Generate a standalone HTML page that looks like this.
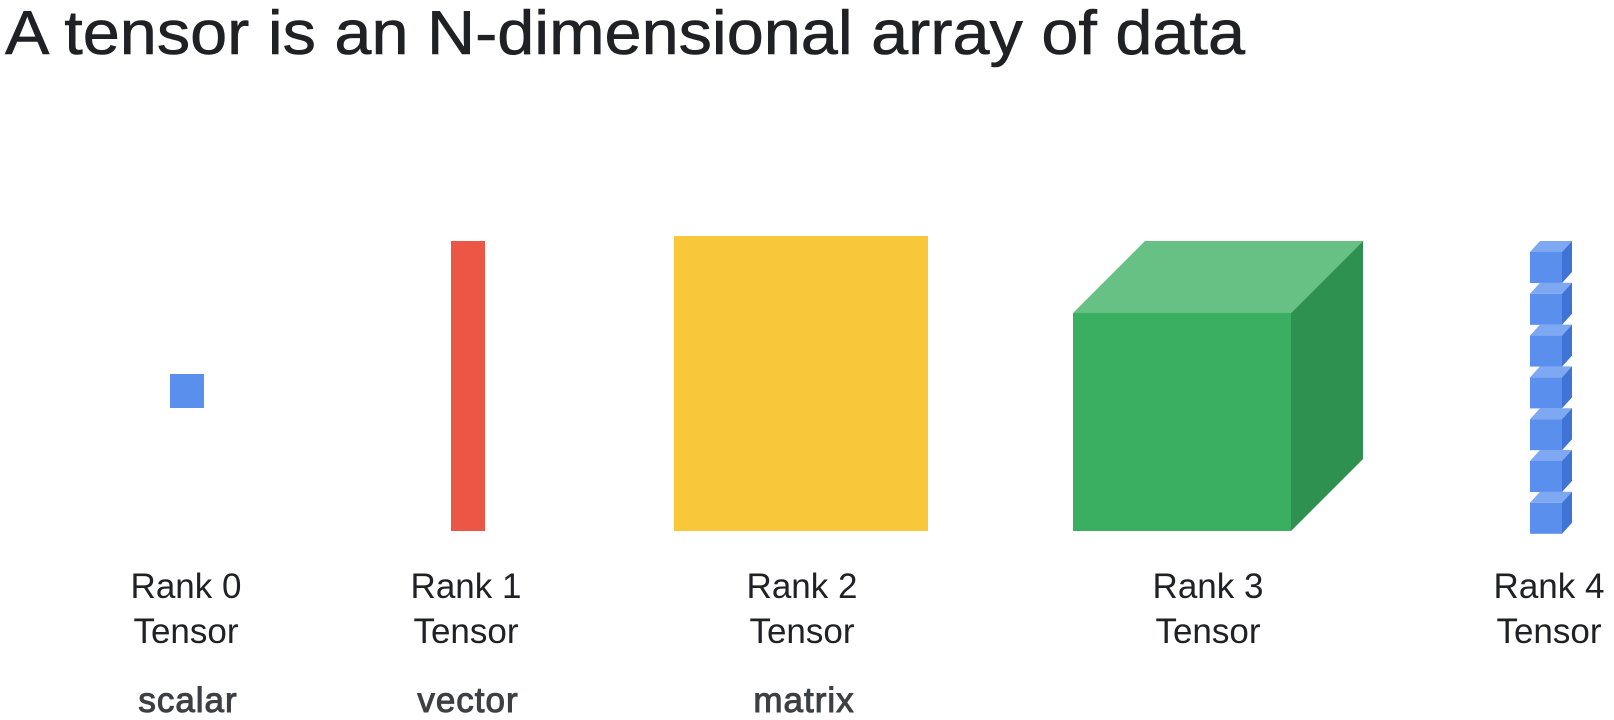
<!DOCTYPE html>
<html><head><meta charset="utf-8"><style>
html,body{margin:0;padding:0;background:#fff;width:1614px;height:720px;overflow:hidden}
svg{display:block}
text{font-family:"Liberation Sans",sans-serif}
</style></head><body>
<svg id="s" width="1614" height="720">
<text x="5" y="54" font-size="62" fill="#202124" stroke="#202124" stroke-width="0.6" textLength="1240" lengthAdjust="spacingAndGlyphs">A tensor is an N-dimensional array of data</text>
<rect x="170" y="374" width="34" height="34" fill="#5a8fee"/>
<rect x="451" y="241" width="34" height="290" fill="#ec5645"/>
<rect x="674" y="236" width="254" height="295" fill="#f8c73a"/>
<g>
<polygon points="1073,313 1145,241 1363,241 1291,313" fill="#67c184"/>
<polygon points="1291,313 1363,241 1363,459 1291,531" fill="#2e9150"/>
<rect x="1073" y="313" width="218" height="218" fill="#3aaf61"/>
</g>
<g id="stack"></g>
<g id="labels"></g>
</svg>
<script>
const ranks=["Rank 0","Rank 1","Rank 2","Rank 3","Rank 4"];
const centers=[186,466,802,1208,1549];
const names=["scalar","vector","matrix","",""];
const cubeCount=7;
const NS="http://www.w3.org/2000/svg";
const L=document.getElementById('labels');
function t(x,y,s,fill,sw,name){const e=document.createElementNS(NS,'text');e.setAttribute('x',x);e.setAttribute('y',y);e.setAttribute('text-anchor','middle');e.setAttribute('font-size','35');e.setAttribute('fill',fill);if(sw){e.setAttribute('stroke',fill);e.setAttribute('stroke-width',sw);e.setAttribute('letter-spacing','1');}e.textContent=s;


L.appendChild(e);}
ranks.forEach((r,i)=>{t(centers[i],598,r,'#202124',null,'rank-label');t(centers[i],643,'Tensor','#202124',null,'tensor-label');if(names[i])t(centers[i]+2,712,names[i],'#3c4043','1','type-label');});
const S=document.getElementById('stack');
for(let i=0;i<cubeCount;i++){const y=252+i*41.8;const g=document.createElementNS(NS,'g');


g.innerHTML=`<polygon points="1530,${y} 1540,${y-11} 1572,${y-11} 1562,${y}" fill="#7ea8f2"/><polygon points="1562,${y} 1572,${y-11} 1572,${y+20} 1562,${y+31}" fill="#3f74d6"/><rect x="1530" y="${y}" width="32" height="31" fill="#5a8fee"/>`;S.appendChild(g);}
</script>
</body></html>
